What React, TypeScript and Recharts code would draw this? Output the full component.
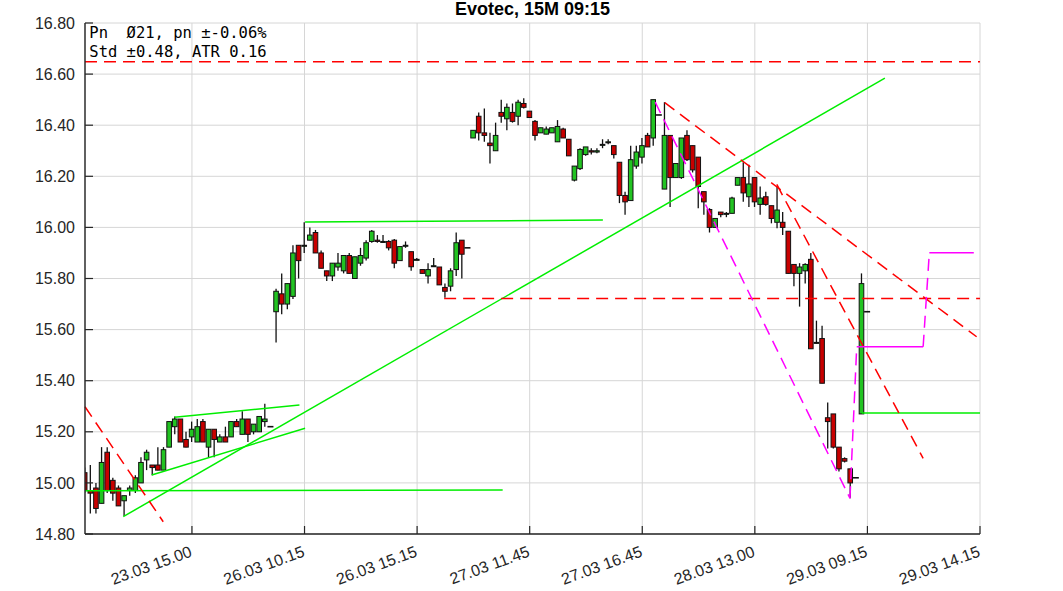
import React from 'react';
import { ComposedChart, Bar, XAxis, YAxis, CartesianGrid, ReferenceLine } from 'recharts';

// ---- candle data (15-minute bars, index = bar number) ----
const OPEN = [
  15.04, 14.97, 14.98, 14.92, 15.12, 15.01, 14.98, 14.93, 14.97, 14.97,
  15.00, 15.09, 15.07, 15.07, 15.05, 15.14, 15.22, 15.25, 15.17, 15.18,
  15.16, 15.24, 15.14, 15.21, 15.16, 15.18, 15.18, 15.24, 15.19, 15.25,
  15.20, 15.20, 15.24, 15.22, 15.67, 15.74, 15.70, 15.73, 15.93, 15.93,
  15.95, 15.98, 15.90, 15.83, 15.81, 15.845, 15.83, 15.89, 15.80, 15.86,
  15.88, 15.945, 15.95, 15.945, 15.945, 15.95, 15.87, 15.93, 15.905, 15.875,
  15.835, 15.81, 15.85, 15.845, 15.765, 15.77, 15.835, 15.95, 15.92, 16.35,
  16.435, 16.37, 16.33, 16.30, 16.45, 16.425, 16.45, 16.435, 16.485, 16.455,
  16.415, 16.37, 16.365, 16.37, 16.335, 16.385, 16.345, 16.185, 16.23, 16.285,
  16.30, 16.295, 16.325, 16.335, 16.32, 16.255, 16.125, 16.105, 16.24, 16.275,
  16.36, 16.35, 16.44, 16.15, 16.36, 16.195, 16.195, 16.36, 16.32, 16.275,
  16.14, 16.07, 16.00, 16.06, 16.055, 16.055, 16.165, 16.195, 16.12, 16.195,
  16.09, 16.12, 16.085, 16.02, 16.02, 15.985, 15.855, 15.82, 15.83, 15.875,
  15.55, 15.565, 15.255, 15.27, 15.14, 15.095, 15.055, 15.02, 15.27, 15.67,
];
const HIGH = [
  15.06, 15.07, 15.00, 15.14, 15.14, 15.02, 14.99, 14.95, 14.99, 15.03,
  15.10, 15.13, 15.07, 15.14, 15.14, 15.24, 15.26, 15.25, 15.20, 15.24,
  15.25, 15.25, 15.21, 15.21, 15.19, 15.22, 15.24, 15.25, 15.28, 15.25,
  15.23, 15.26, 15.31, 15.22, 15.76, 15.82, 15.78, 15.93, 15.93, 16.02,
  16.00, 15.99, 15.91, 15.83, 15.86, 15.90, 15.89, 15.90, 15.885, 15.92,
  15.95, 15.99, 15.97, 15.97, 15.95, 15.955, 15.925, 15.945, 15.905, 15.88,
  15.835, 15.86, 15.88, 15.845, 15.78, 15.84, 15.98, 15.95, 15.92, 16.38,
  16.45, 16.465, 16.37, 16.41, 16.50, 16.485, 16.485, 16.50, 16.505, 16.455,
  16.42, 16.39, 16.395, 16.39, 16.42, 16.39, 16.345, 16.24, 16.31, 16.315,
  16.31, 16.31, 16.345, 16.345, 16.32, 16.255, 16.14, 16.32, 16.32, 16.35,
  16.37, 16.50, 16.44, 16.49, 16.36, 16.25, 16.35, 16.38, 16.32, 16.275,
  16.14, 16.075, 16.035, 16.06, 16.06, 16.12, 16.195, 16.255, 16.245, 16.195,
  16.16, 16.14, 16.085, 16.16, 16.06, 15.985, 15.855, 15.86, 15.86, 15.90,
  15.635, 15.615, 15.315, 15.27, 15.14, 15.10, 15.055, 15.02, 15.82, 15.67,
];
const LOW = [
  14.96, 14.88, 14.88, 14.92, 14.96, 14.93, 14.91, 14.87, 14.95, 14.96,
  15.00, 15.05, 15.03, 15.05, 15.05, 15.14, 15.19, 15.16, 15.14, 15.16,
  15.16, 15.16, 15.10, 15.10, 15.16, 15.16, 15.18, 15.22, 15.19, 15.16,
  15.19, 15.20, 15.22, 15.22, 15.55, 15.66, 15.68, 15.72, 15.80, 15.90,
  15.95, 15.90, 15.84, 15.79, 15.79, 15.83, 15.82, 15.82, 15.80, 15.85,
  15.87, 15.94, 15.94, 15.94, 15.91, 15.84, 15.87, 15.92, 15.83, 15.875,
  15.82, 15.78, 15.845, 15.775, 15.725, 15.75, 15.81, 15.80, 15.92, 16.35,
  16.34, 16.335, 16.25, 16.30, 16.41, 16.38, 16.41, 16.40, 16.465, 16.43,
  16.34, 16.37, 16.365, 16.37, 16.335, 16.35, 16.28, 16.18, 16.225, 16.28,
  16.285, 16.29, 16.31, 16.325, 16.27, 16.095, 16.05, 16.105, 16.23, 16.25,
  16.315, 16.32, 16.44, 16.15, 16.08, 16.195, 16.19, 16.26, 16.215, 16.075,
  16.05, 15.98, 16.00, 16.04, 16.04, 16.055, 16.165, 16.10, 16.08, 16.08,
  16.05, 16.085, 16.016, 15.997, 15.97, 15.82, 15.77, 15.69, 15.78, 15.525,
  15.545, 15.39, 15.135, 15.135, 15.045, 15.08, 14.94, 15.02, 15.27, 15.67,
];
const CLOSE = [
  14.97, 14.96, 14.90, 15.08, 14.97, 14.96, 14.91, 14.95, 14.98, 15.02,
  15.08, 15.12, 15.06, 15.05, 15.13, 15.24, 15.25, 15.16, 15.14, 15.21,
  15.22, 15.16, 15.21, 15.17, 15.18, 15.16, 15.24, 15.22, 15.25, 15.19,
  15.23, 15.26, 15.25, 15.22, 15.75, 15.70, 15.78, 15.90, 15.87, 15.93,
  15.97, 15.90, 15.84, 15.81, 15.86, 15.86, 15.89, 15.82, 15.885, 15.89,
  15.94, 15.985, 15.945, 15.945, 15.92, 15.86, 15.925, 15.93, 15.846, 15.875,
  15.82, 15.835, 15.85, 15.775, 15.75, 15.83, 15.94, 15.895, 15.92, 16.38,
  16.37, 16.36, 16.32, 16.36, 16.435, 16.47, 16.415, 16.49, 16.47, 16.43,
  16.36, 16.39, 16.385, 16.39, 16.395, 16.35, 16.28, 16.24, 16.305, 16.315,
  16.295, 16.30, 16.325, 16.335, 16.285, 16.125, 16.10, 16.265, 16.295, 16.32,
  16.315, 16.50, 16.44, 16.36, 16.195, 16.25, 16.35, 16.265, 16.225, 16.16,
  16.10, 16.00, 16.035, 16.05, 16.055, 16.115, 16.195, 16.135, 16.17, 16.10,
  16.115, 16.09, 16.035, 16.068, 16.00, 15.82, 15.82, 15.845, 15.855, 15.525,
  15.55, 15.39, 15.24, 15.14, 15.055, 15.085, 15.00, 15.02, 15.78, 15.67,
];

// ---- axes ----
const X_TICKS = [19, 39, 59, 79, 99, 119, 139, 159];
const X_LABELS = ['23.03 15.00', '26.03 10.15', '26.03 15.15', '27.03 11.45', '27.03 16.45', '28.03 13.00', '29.03 09.15', '29.03 14.15'];
const Y_TICKS = [14.8, 15.0, 15.2, 15.4, 15.6, 15.8, 16.0, 16.2, 16.4, 16.6, 16.8];
const X_DOMAIN = [0, 159];
const Y_DOMAIN = [14.8, 16.8];

// ---- overlay lines: [x1, y1, x2, y2] in (bar index, price) ----
const GREEN_LINES = [
  [6.8, 14.868, 142.1, 16.584],
  [39.1, 16.021, 92.0, 16.029],
  [15.9, 15.257, 38.1, 15.305],
  [11.85, 15.031, 39.1, 15.214],
  [0, 14.969, 74.2, 14.972],
  [138.0, 15.274, 159, 15.274],
];
const RED_LINES = [
  [0, 16.648, 159, 16.648],
  [63.8, 15.722, 159, 15.722],
  [0, 15.298, 13.9, 14.848],
  [103.0, 16.488, 158.4, 15.572],
  [122.9, 16.168, 148.9, 15.096],
];
const MAGENTA_DASHED = [
  [101.3, 16.49, 135.9, 14.94],
  [135.9, 14.94, 137.1, 15.533],
  [148.9, 15.533, 150.0, 15.901],
];
const MAGENTA_SOLID = [
  [137.1, 15.533, 148.9, 15.533],
  [150.0, 15.901, 157.9, 15.901],
];

const TITLE = 'Evotec, 15M 09:15';
const INFO = ['Pn  Ø21, pn ±-0.06%', 'Std ±0.48, ATR 0.16'];

const W = 1063;
const H = 591;
const AX = '#262626';
const UP = '#22c322';
const DOWN = '#c80000';
const SANS = 'Liberation Sans, Arial, Helvetica, sans-serif';

const data = OPEN.map((o, i) => ({ i, o, h: HIGH[i], l: LOW[i], c: CLOSE[i] }));

function Candle(props: any) {
  const { x, y, width, height, payload } = props;
  if (!payload || x == null || y == null) return null;
  const cx = x + width / 2;
  const hgt = height || 0;
  const top = Math.min(y, y + hgt);
  const bot = Math.max(y, y + hgt);
  const { o, h, l, c } = payload;
  if (h === l) {
    return <line x1={cx - 3} x2={cx + 3} y1={top} y2={top} stroke="#111" strokeWidth={1.6} />;
  }
  const k = (bot - top) / (h - l);
  const yo = top + (h - o) * k;
  const yc = top + (h - c) * k;
  const bt = Math.min(yo, yc);
  const bb = Math.max(yo, yc);
  const up = c >= o;
  return (
    <g>
      <line x1={cx} x2={cx} y1={top} y2={bot} stroke="#111" strokeWidth={1.3} />
      <rect x={cx - 2.3} y={bt} width={4.6} height={Math.max(bb - bt, 1)} fill={up ? UP : DOWN} stroke="#111" strokeWidth={1} />
    </g>
  );
}

function XTick(props: any) {
  const { x, y, payload } = props;
  const idx = X_TICKS.indexOf(payload.value);
  const label = idx >= 0 ? X_LABELS[idx] : '';
  const ty = y + 22;
  return (
    <text x={x + 1} y={ty} textAnchor="end" fontSize={16} fontFamily={SANS} fill={AX} transform={`rotate(-20, ${x + 1}, ${ty})`}>
      {label}
    </text>
  );
}

function seg(s: number[]) {
  return [{ x: s[0], y: s[1] }, { x: s[2], y: s[3] }];
}

export default function App() {
  return (
    <div style={{ position: 'relative', width: W, height: H }}>
      <style>{'body{margin:0;}'}</style>
      <ComposedChart width={W} height={H} data={data} margin={{ top: 23, right: 83, left: 0, bottom: 0 }}>
        <CartesianGrid stroke="#d6d6d6" strokeWidth={1} />
        <XAxis
          dataKey="i"
          type="number"
          domain={X_DOMAIN}
          ticks={X_TICKS}
          interval={0}
          allowDataOverflow
          height={57}
          tickSize={-8}
          tickMargin={8}
          tick={<XTick />}
          axisLine={{ stroke: AX, strokeWidth: 1.4 }}
          tickLine={{ stroke: AX, strokeWidth: 1.2 }}
        />
        <XAxis
          xAxisId="top"
          orientation="top"
          dataKey="i"
          type="number"
          domain={X_DOMAIN}
          ticks={X_TICKS}
          interval={0}
          allowDataOverflow
          height={0}
          tickSize={-8}
          tick={false}
          axisLine={{ stroke: AX, strokeWidth: 1.4 }}
          tickLine={{ stroke: AX, strokeWidth: 1.2 }}
        />
        <YAxis
          type="number"
          domain={Y_DOMAIN}
          ticks={Y_TICKS}
          interval={0}
          allowDataOverflow
          width={85}
          tickSize={-8}
          tickMargin={18}
          tickFormatter={(v: number) => v.toFixed(2)}
          tick={{ fontSize: 16, fontFamily: SANS, fill: AX }}
          axisLine={{ stroke: AX, strokeWidth: 1.4 }}
          tickLine={{ stroke: AX, strokeWidth: 1.2 }}
        />
        <YAxis
          yAxisId="right"
          orientation="right"
          type="number"
          domain={Y_DOMAIN}
          ticks={Y_TICKS}
          interval={0}
          allowDataOverflow
          width={0}
          tickSize={-8}
          tick={false}
          axisLine={{ stroke: AX, strokeWidth: 1.4 }}
          tickLine={{ stroke: AX, strokeWidth: 1.2 }}
        />
        {GREEN_LINES.map((s, k) => (
          <ReferenceLine key={'g' + k} segment={seg(s)} stroke="#00ee00" strokeWidth={1.5} />
        ))}
        {RED_LINES.map((s, k) => (
          <ReferenceLine key={'r' + k} segment={seg(s)} stroke="#ff0000" strokeWidth={1.5} strokeDasharray="12 7" />
        ))}
        {MAGENTA_DASHED.map((s, k) => (
          <ReferenceLine key={'m' + k} segment={seg(s)} stroke="#ff00ff" strokeWidth={1.5} strokeDasharray="12 7" />
        ))}
        {MAGENTA_SOLID.map((s, k) => (
          <ReferenceLine key={'ms' + k} segment={seg(s)} stroke="#ff00ff" strokeWidth={1.5} />
        ))}
        <Bar dataKey={(d: any) => [d.l, d.h]} barSize={5} shape={<Candle />} isAnimationActive={false} />
      </ComposedChart>
      <svg width={W} height={H} style={{ position: 'absolute', left: 0, top: 0, pointerEvents: 'none' }}>
        <text x={532.5} y={15} textAnchor="middle" fontSize={18} fontWeight="bold" fontFamily={SANS} fill="#000">
          {TITLE}
        </text>
        {INFO.map((t, k) => (
          <text key={k} x={89.3} y={38.3 + k * 19} fontSize={15.5} fontFamily="DejaVu Sans Mono, monospace" fill="#000" style={{ whiteSpace: 'pre' }} xmlSpace="preserve">
            {t}
          </text>
        ))}
      </svg>
    </div>
  );
}
